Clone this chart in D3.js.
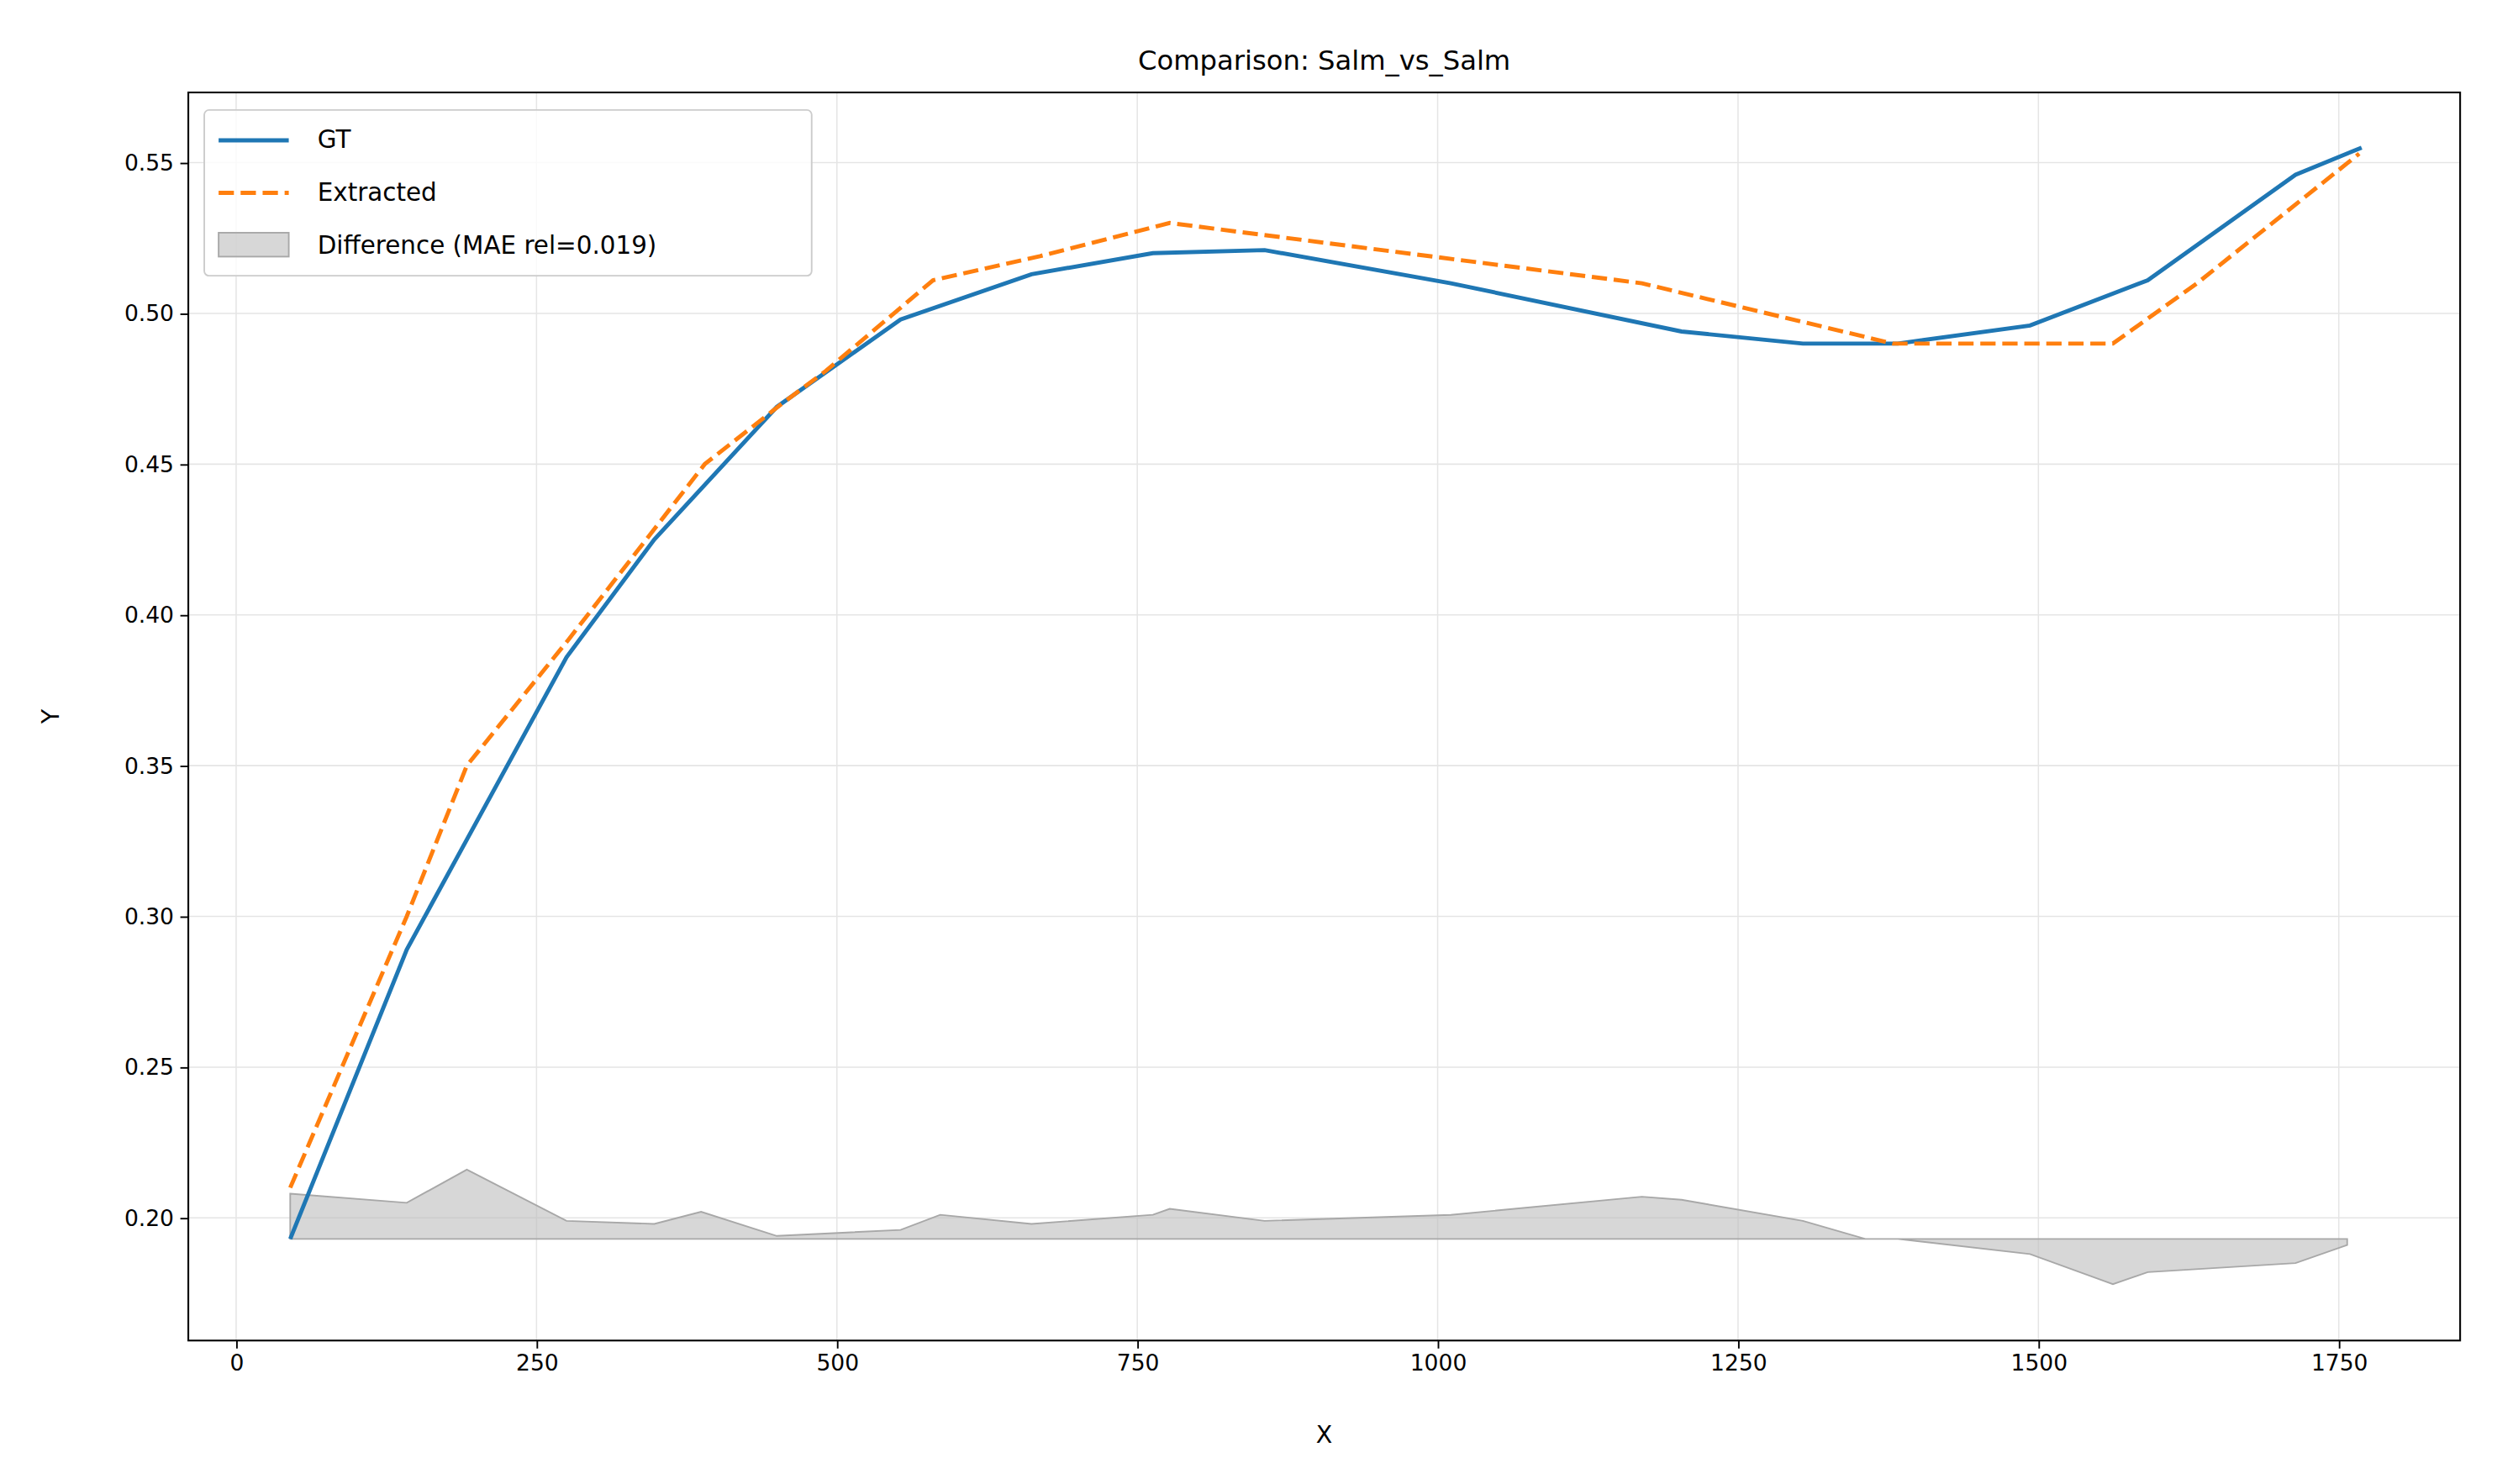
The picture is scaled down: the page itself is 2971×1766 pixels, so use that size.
<!DOCTYPE html>
<html><head><meta charset="utf-8">
<script src="https://cdn.jsdelivr.net/npm/d3@7"></script>
<style>body{margin:0;background:#fff}text{font-family:"DejaVu Sans",sans-serif}</style>
</head><body><svg id="c"></svg>
<script>
const gtX=[45,142,275,348,450,553,662,763,856,1011,1203,1304,1383,1493,1591,1714,1769];
const gtY=[0.193,0.289,0.386,0.425,0.469,0.498,0.513,0.520,0.521,0.510,0.494,0.490,0.490,0.496,0.511,0.546,0.555];
const exX=[45,142,192,277,390,454,491,580,669,777,1170,1379,1562,1632,1767];
const exY=[0.210,0.300,0.350,0.392,0.450,0.470,0.481,0.511,0.519,0.530,0.510,0.490,0.490,0.510,0.553];
const dfX=[45,142,192,275,348,387,450,553,586,662,763,777,856,1011,1170,1203,1304,1356,1383,1493,1562,1591,1714,1757];
const dfY=[0.208,0.205,0.216,0.199,0.198,0.202,0.194,0.196,0.201,0.198,0.201,0.203,0.199,0.201,0.207,0.206,0.199,0.193,0.193,0.188,0.178,0.182,0.185,0.191];
const baseline=0.193;
const xTicks=[0,250,500,750,1000,1250,1500,1750];
const yTicks=[0.20,0.25,0.30,0.35,0.40,0.45,0.50,0.55];

const W=1566,H=931;
const svg=d3.select("#c").attr("width",2971).attr("height",1766).attr("viewBox",`0 0 ${W} ${H}`);
const L=118,R=1543,T=58,B=841;
const x=d3.scaleLinear().domain([-39.8,1851]).range([L,R]);
const y=d3.scaleLinear().domain([0.1593,0.5733]).range([B,T]);

svg.append("g").selectAll("line").data(xTicks).join("line").attr("x1",d=>x(d)).attr("x2",d=>x(d)).attr("y1",T).attr("y2",B).attr("stroke","#e5e5e5").attr("stroke-width",0.8);
svg.append("g").selectAll("line").data(yTicks).join("line").attr("y1",d=>y(d)).attr("y2",d=>y(d)).attr("x1",L).attr("x2",R).attr("stroke","#e5e5e5").attr("stroke-width",0.8);

const dd=dfX.map((v,i)=>[v,dfY[i]]);
svg.append("path").datum(dd).attr("d",d3.area().x(d=>x(d[0])).y0(y(baseline)).y1(d=>y(d[1])))
 .attr("fill","#bdbdbd").attr("fill-opacity",0.6).attr("stroke","#a8a8a8").attr("stroke-width",1);

const line=d3.line().x(d=>x(d[0])).y(d=>y(d[1]));
svg.append("path").datum(gtX.map((v,i)=>[v,gtY[i]])).attr("d",line).attr("fill","none").attr("stroke","#1f77b4").attr("stroke-width",2.6);
svg.append("path").datum(exX.map((v,i)=>[v,exY[i]])).attr("d",line).attr("fill","none").attr("stroke","#ff7f0e").attr("stroke-width",2.6).attr("stroke-dasharray","9.6,4.2");

svg.append("rect").attr("x",L).attr("y",T).attr("width",R-L).attr("height",B-T).attr("fill","none").attr("stroke","#000").attr("stroke-width",1.1);

const xa=svg.append("g").attr("transform",`translate(0,${B})`).call(d3.axisBottom(x).tickValues(xTicks).tickFormat(d3.format("d")).tickSize(5).tickPadding(4));
const ya=svg.append("g").attr("transform",`translate(${L},0)`).call(d3.axisLeft(y).tickValues(yTicks).tickFormat(d3.format(".2f")).tickSize(5).tickPadding(4));
[xa,ya].forEach(a=>{a.select(".domain").remove();a.selectAll("text").attr("font-size",14).attr("fill","#000").style("font-family","DejaVu Sans");a.selectAll("line").attr("stroke","#000");});

svg.append("text").attr("x",(L+R)/2).attr("y",44).attr("text-anchor","middle").attr("font-size",17).text("Comparison: Salm_vs_Salm");
svg.append("text").attr("x",(L+R)/2).attr("y",905).attr("text-anchor","middle").attr("font-size",15).text("X");
svg.append("text").attr("transform",`translate(37,${(T+B)/2}) rotate(-90)`).attr("text-anchor","middle").attr("font-size",15).text("Y");

const lg=svg.append("g");
lg.append("rect").attr("x",128).attr("y",69).attr("width",381).attr("height",104).attr("rx",3).attr("fill","#fff").attr("fill-opacity",0.8).attr("stroke","#ccc");
lg.append("line").attr("x1",137).attr("x2",181).attr("y1",88).attr("y2",88).attr("stroke","#1f77b4").attr("stroke-width",2.6);
lg.append("line").attr("x1",137).attr("x2",181).attr("y1",121).attr("y2",121).attr("stroke","#ff7f0e").attr("stroke-width",2.6).attr("stroke-dasharray","9.6,4.2");
lg.append("rect").attr("x",137).attr("y",146).attr("width",44).attr("height",15).attr("fill","#bdbdbd").attr("fill-opacity",0.6).attr("stroke","#a8a8a8");
[["GT",88],["Extracted",121],["Difference (MAE rel=0.019)",154]].forEach(([t,yy])=>lg.append("text").attr("x",199).attr("y",yy+5).attr("font-size",15.5).text(t));
</script></body></html>
